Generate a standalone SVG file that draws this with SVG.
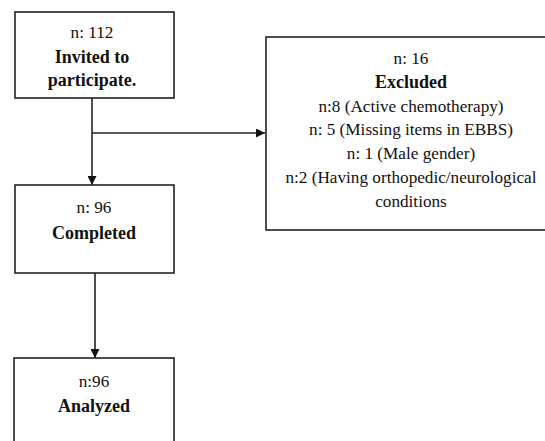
<svg xmlns="http://www.w3.org/2000/svg" width="545" height="441" viewBox="0 0 545 441">
<defs>
<style>
.box{fill:#fff;stroke:#222;stroke-width:1.6}
.t{font-family:"Liberation Serif","Times New Roman",serif;font-size:17.2px;fill:#111;text-anchor:middle}
.b{font-weight:bold;font-size:18px}
.c{stroke:#222;stroke-width:1.6;fill:none}
</style>
<marker id="ah" viewBox="0 0 10 10" refX="10" refY="5" markerWidth="9" markerHeight="9" markerUnits="userSpaceOnUse" orient="auto">
<path d="M0,0 L10,5 L0,10 z" fill="#111"/>
</marker>
</defs>
<rect width="545" height="441" fill="#fff"/>
<g id="connectors">
<line class="c" x1="92" y1="98" x2="92" y2="185" marker-end="url(#ah)"/>
<line class="c" x1="92" y1="133" x2="265" y2="133" marker-end="url(#ah)"/>
<line class="c" x1="95" y1="273" x2="95" y2="358" marker-end="url(#ah)"/>
</g>
<g id="invited">
<rect class="box" x="15" y="12" width="159" height="86"/>
<text class="t" x="92" y="38">n: 112</text>
<text class="t b" x="92" y="63">Invited to</text>
<text class="t b" x="92" y="86">participate.</text>
</g>
<g id="excluded">
<rect class="box" x="266" y="37" width="290" height="193"/>
<text class="t" x="411" y="64">n: 16</text>
<text class="t b" x="411" y="88">Excluded</text>
<text class="t" x="411" y="112">n:8 (Active chemotherapy)</text>
<text class="t" x="411" y="135">n: 5 (Missing items in EBBS)</text>
<text class="t" x="411" y="159">n: 1 (Male gender)</text>
<text class="t" x="411" y="183">n:2 (Having orthopedic/neurological</text>
<text class="t" x="411" y="207">conditions</text>
</g>
<g id="completed">
<rect class="box" x="15" y="185" width="159" height="88"/>
<text class="t" x="94" y="213">n: 96</text>
<text class="t b" x="94" y="239">Completed</text>
</g>
<g id="analyzed">
<rect class="box" x="14" y="358" width="160" height="100"/>
<text class="t" x="94" y="387">n:96</text>
<text class="t b" x="94" y="412">Analyzed</text>
</g>
</svg>
